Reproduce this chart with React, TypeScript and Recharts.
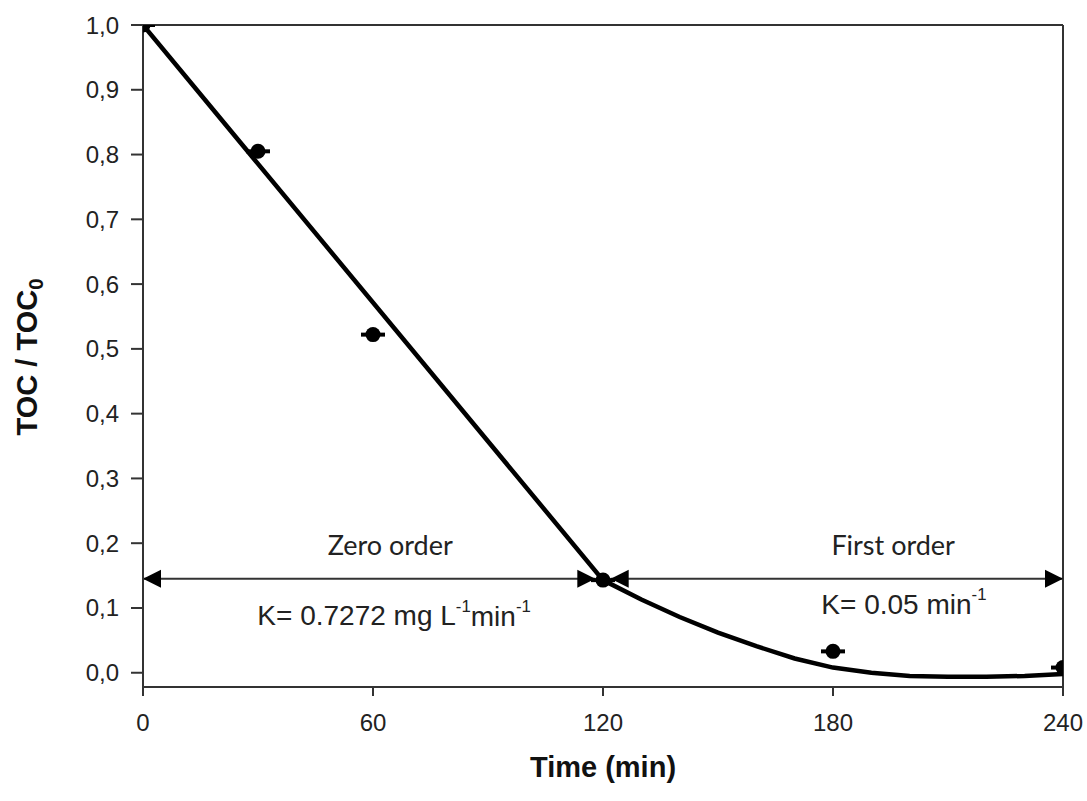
import {
  ComposedChart,
  Line,
  Scatter,
  XAxis,
  YAxis,
  ReferenceLine,
  ReferenceDot,
  Label,
} from "recharts";

const timeTicks = [0, 60, 120, 180, 240];
const tocTicks = [0, 0.1, 0.2, 0.3, 0.4, 0.5, 0.6, 0.7, 0.8, 0.9, 1.0];

// measured points
const measuredTime = [0, 30, 60, 120, 180, 240];
const measuredToc = [1.0, 0.805, 0.522, 0.143, 0.033, 0.008];

// fitted curve (zero order then first order)
const fitTime = [0, 120, 130, 140, 150, 160, 170, 180, 190, 200, 210, 220, 230, 240];
const fitToc = [1.0, 0.143, 0.113, 0.086, 0.062, 0.041, 0.022, 0.008, 0.0, -0.005, -0.006, -0.006, -0.005, -0.002];

// arrows marking the two kinetic regions
const zeroOrderRange = [0, 118];
const firstOrderRange = [122, 240];
const arrowLevel = 0.145;

const measured = measuredTime.map((t, i) => ({ t, v: measuredToc[i] }));
const fit = fitTime.map((t, i) => ({ t, v: fitToc[i] }));

const ARIAL = "'Liberation Sans', Arial, sans-serif";
const CALIBRI = "Lato, 'Open Sans', sans-serif";
const INK = "#222";

const Marker = (props: any) => {
  const { cx, cy } = props;
  if (cx == null || cy == null) return <g />;
  return (
    <g>
      <line x1={cx - 12} y1={cy} x2={cx + 12} y2={cy} stroke="#000" strokeWidth={4} />
      <circle cx={cx} cy={cy} r={7.5} fill="#000" />
    </g>
  );
};

const DoubleArrow = (props: any) => {
  const { x1, y1, x2, y2 } = props;
  const h = 18;
  const w = 9;
  return (
    <g>
      <line x1={x1} y1={y1} x2={x2} y2={y2} stroke="#333" strokeWidth={2} />
      <polygon points={`${x1},${y1} ${x1 + h},${y1 - w} ${x1 + h},${y1 + w}`} fill="#000" />
      <polygon points={`${x2},${y2} ${x2 - h},${y2 - w} ${x2 - h},${y2 + w}`} fill="#000" />
    </g>
  );
};

const textAt = (content: React.ReactNode, font: string, size: number) => (props: any) => (
  <text
    x={props.cx}
    y={props.cy}
    textAnchor="middle"
    dominantBaseline="central"
    fontFamily={font}
    fontSize={size}
    fill={INK}
  >
    {content}
  </text>
);

const sup = (s: string) => (
  <tspan fontSize="0.6em" dy="-0.6em">
    {s}
  </tspan>
);

const fmt = (v: number) => v.toFixed(1).replace(".", ",");

export default function App() {
  return (
    <div style={{ width: 1087, height: 801, background: "#fff" }}>
      <style>{`body{margin:0}`}</style>
      <ComposedChart
        width={1087}
        height={801}
        margin={{ top: 25, right: 24, bottom: 0, left: 0 }}
      >
        <XAxis
          type="number"
          dataKey="t"
          domain={[0, 240]}
          ticks={timeTicks}
          allowDataOverflow
          height={114}
          tickSize={9}
          tickMargin={18}
          axisLine={{ stroke: "#333", strokeWidth: 2 }}
          tickLine={{ stroke: "#333", strokeWidth: 2 }}
          tick={{ fontFamily: ARIAL, fontSize: 24, fill: INK }}
        >
          <Label
            content={(p: any) => (
              <text
                x={p.viewBox.x + p.viewBox.width / 2}
                y={p.viewBox.y + 90}
                textAnchor="middle"
                fontFamily={ARIAL}
                fontWeight="bold"
                fontSize={29}
                fill="#111"
              >
                Time (min)
              </text>
            )}
          />
        </XAxis>
        <YAxis
          type="number"
          dataKey="v"
          domain={[-0.022, 1]}
          ticks={tocTicks}
          allowDataOverflow
          width={143}
          tickSize={12}
          tickMargin={12}
          tickFormatter={fmt}
          axisLine={{ stroke: "#333", strokeWidth: 2 }}
          tickLine={{ stroke: "#333", strokeWidth: 2 }}
          tick={{ fontFamily: ARIAL, fontSize: 24, fill: INK }}
        >
          <Label
            content={(p: any) => {
              const x = p.viewBox.x + 37;
              const y = p.viewBox.y + p.viewBox.height / 2 + 1;
              return (
                <text
                  x={x}
                  y={y}
                  transform={`rotate(-90 ${x} ${y})`}
                  textAnchor="middle"
                  fontFamily={ARIAL}
                  fontWeight="bold"
                  fontSize={29}
                  fill="#111"
                >
                  TOC / TOC
                  <tspan fontSize="0.7em" dy="0.3em">
                    0
                  </tspan>
                </text>
              );
            }}
          />
        </YAxis>

        <ReferenceLine y={1} stroke="#333" strokeWidth={2} />
        <ReferenceLine x={240} stroke="#333" strokeWidth={2} />

        <ReferenceLine
          segment={[
            { x: zeroOrderRange[0], y: arrowLevel },
            { x: zeroOrderRange[1], y: arrowLevel },
          ]}
          shape={DoubleArrow}
        />
        <ReferenceLine
          segment={[
            { x: firstOrderRange[0], y: arrowLevel },
            { x: firstOrderRange[1], y: arrowLevel },
          ]}
          shape={DoubleArrow}
        />

        <Line
          data={fit}
          dataKey="v"
          type="linear"
          stroke="#000"
          strokeWidth={4.5}
          dot={false}
          activeDot={false}
          isAnimationActive={false}
        />
        <Scatter data={measured} dataKey="v" shape={Marker} isAnimationActive={false} />

        <ReferenceDot x={64.5} y={0.198} r={0} shape={textAt("Zero order", CALIBRI, 27)} />
        <ReferenceDot x={195.7} y={0.198} r={0} shape={textAt("First order", CALIBRI, 27)} />
        <ReferenceDot
          x={65.5}
          y={0.088}
          r={0}
          shape={textAt(
            <>
              K= 0.7272 mg L{sup("-1")}
              <tspan dy="0.36em">min</tspan>
              {sup("-1")}
            </>,
            ARIAL,
            28
          )}
        />
        <ReferenceDot
          x={198.5}
          y={0.106}
          r={0}
          shape={textAt(
            <>
              K= 0.05 min{sup("-1")}
            </>,
            ARIAL,
            28
          )}
        />
      </ComposedChart>
    </div>
  );
}
